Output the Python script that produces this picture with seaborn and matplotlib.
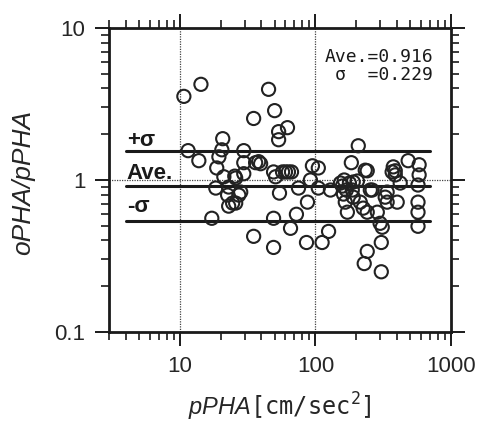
import matplotlib
matplotlib.use("Agg")
import matplotlib.pyplot as plt
import seaborn as sns
import numpy as np
import pandas as pd

# data
p_pha = [10.7, 14.3, 45.1, 35.0, 50.0, 62.2, 53.5, 53.5, 20.7, 207,
         11.5, 13.8, 20.4, 19.4, 29.6, 29.6, 36.2, 38.1, 39.4, 18.7,
         21.1, 25.4, 49.1, 57.2, 60.1, 63.2, 66.6, 95.0, 105, 184,
         241, 375, 388, 483, 582, 582, 18.4, 22.5, 25.8, 22.9,
         27.2, 28.1, 22.9, 24.5, 25.8, 17.2, 35.0, 49.1, 49.1, 54.3,
         50.8, 65.5, 72.4, 75.0, 87.3, 85.9, 91.8, 105, 112, 125,
         129, 153, 161, 166, 172, 178, 187, 204, 190, 214,
         225, 241, 241, 229, 306, 306, 311, 300, 286, 262,
         338, 338, 327, 401, 422, 571, 571, 571, 571, 233,
         190, 158, 169, 163, 368, 254, 388, 29.6]
ratio = [3.55, 4.26, 3.95, 2.54, 2.86, 2.21, 2.08, 1.84, 1.87, 1.68,
         1.56, 1.34, 1.58, 1.42, 1.56, 1.30, 1.30, 1.32, 1.28, 1.20,
         1.05, 1.06, 1.13, 1.13, 1.13, 1.13, 1.13, 1.24, 1.20, 1.30,
         1.15, 1.22, 1.15, 1.34, 1.26, 1.08, 0.885, 0.796, 1.03, 0.899,
         0.796, 0.833, 0.673, 0.705, 0.705, 0.560, 0.426, 0.360, 0.560, 0.820,
         1.05, 0.481, 0.595, 0.885, 0.715, 0.388, 1.0, 0.885, 0.388, 0.459,
         0.859, 0.955, 0.808, 0.715, 0.614, 0.955, 0.859, 0.985, 0.771, 0.715,
         0.653, 0.614, 0.339, 0.282, 0.249, 0.388, 0.489, 0.519, 0.614, 0.859,
         0.715, 0.833, 0.771, 0.715, 0.955, 0.927, 0.715, 0.614, 0.496, 1.16,
         0.970, 0.912, 0.859, 1.0, 1.13, 0.859, 1.08, 1.10]
ave = 0.916
sigma = 0.229
x_ticks = [10, 100, 1000]
x_tick_labels = ["10", "100", "1000"]
y_ticks = [0.1, 1, 10]
y_tick_labels = ["0.1", "1", "10"]
line_span = [4.0, 700]

sns.set_style("ticks")
plt.rcParams["font.family"] = ["Liberation Sans", "DejaVu Sans"]
plt.rcParams["mathtext.fontset"] = "custom"
plt.rcParams["mathtext.it"] = "Liberation Sans:italic"
plt.rcParams["mathtext.rm"] = "DejaVu Sans Mono"

fig = plt.figure(figsize=(4.82, 4.26), dpi=100)
ax = fig.add_axes([109/482, 1-332/426, (451-109)/482, (332-28)/426])

df = pd.DataFrame({"pPHA": p_pha, "ratio": ratio})
sns.scatterplot(data=df, x="pPHA", y="ratio", ax=ax, marker="o",
                facecolors="none", edgecolor="#222222", s=90, linewidth=1.5,
                zorder=3)

ax.set_xscale("log")
ax.set_yscale("log")
ax.set_xlim(3, 1000)
ax.set_ylim(0.1, 10)

# grid at decades
for gx in [10, 100]:
    ax.axvline(gx, color="#444444", lw=0.9, ls=(0, (1, 1)), zorder=1)
ax.axhline(1, color="#444444", lw=0.9, ls=(0, (1, 1)), zorder=1)

up = ave * 10 ** sigma
lo = ave / 10 ** sigma
for yv in [up, ave, lo]:
    ax.plot(line_span, [yv, yv], color="#1a1a1a", lw=2.2, zorder=2)

ax.text(4.05, up * 1.0, "+σ", fontsize=16, fontweight="bold", ha="left", va="bottom", color="#1a1a1a")
ax.text(4.05, ave * 1.03, "Ave.", fontsize=16, fontweight="bold", ha="left", va="bottom", color="#1a1a1a")
ax.text(4.05, lo * 1.06, "-σ", fontsize=16, fontweight="bold", ha="left", va="bottom", color="#1a1a1a")

ax.text(0.948, 0.935, f"Ave.={ave:.3f}\nσ  ={sigma:.3f}", transform=ax.transAxes,
        ha="right", va="top", fontsize=13, family=["DejaVu Sans Mono"],
        linespacing=1.0, color="#1a1a1a")

ax.set_xticks(x_ticks)
ax.set_xticklabels(x_tick_labels)
ax.set_yticks(y_ticks)
ax.set_yticklabels(y_tick_labels)

for s in ax.spines.values():
    s.set_visible(True)
    s.set_linewidth(2)
    s.set_color("#1a1a1a")
ax.tick_params(which="both", direction="out", top=True, right=True,
               labeltop=False, labelright=False, color="#1a1a1a")
ax.tick_params(which="major", length=10, width=1.4, labelsize=16, pad=7)
ax.tick_params(which="minor", length=5.5, width=1.2)

ax.set_xlabel(r"$\mathit{pPHA}\mathrm{[cm/sec^{2}]}$", fontsize=17, labelpad=10)
ax.set_ylabel(r"oPHA/pPHA", fontsize=19, style="italic")
ax.yaxis.set_label_coords(-0.216, 0.493)

fig.savefig("out.png", dpi=100)
